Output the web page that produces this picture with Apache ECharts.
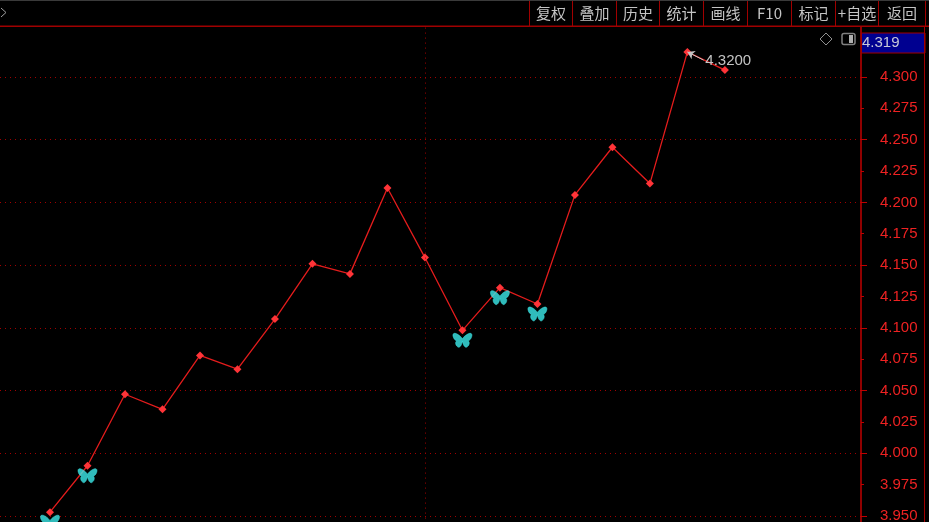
<!DOCTYPE html>
<html><head><meta charset="utf-8">
<style>html,body{margin:0;padding:0;background:#000}#c{width:929px;height:522px}</style>
<script src="https://cdn.jsdelivr.net/npm/echarts@6/dist/echarts.min.js"></script>
</head><body><div id="c"></div>
<script>
const pointIndex = [0,1,2,3,4,5,6,7,8,9,10,11,12,13,14,15,16,17,18];
const prices = [3.953,3.990,4.047,4.035,4.078,4.067,4.107,4.151,4.143,4.2115,4.156,4.098,4.132,4.119,4.206,4.244,4.215,4.320,4.3055];
const butterflyIndex = [0,1,11,12,13];
const buttonLabels = ['复权','叠加','历史','统计','画线','F10','标记','+自选','返回'];
const buttonEdges = [529,572,616,659,703,747,791,835,878,925];
const currentPrice = '4.319';
const peakLabel = '4.3200';

const butterfly = 'path://M10 6 C8 3 3 0 1 1 C-1 2 1 7 4 8 C2 9 3 13 6 14 C8 14 9.5 11 10 8 C10.5 11 12 14 14 14 C17 13 18 9 16 8 C19 7 21 2 19 1 C17 0 12 3 10 6 Z';
const DARK_RED = '#a00000', RED = '#ee2222', GRAY = '#c4c4c4';

const graphics = [
  {type:'rect',z:50,shape:{x:0,y:0,width:929,height:26},style:{fill:'#000'}},
  {type:'rect',z:51,shape:{x:0,y:0,width:929,height:1},style:{fill:'#3a3a3a'}},
  {type:'rect',z:51,shape:{x:0,y:25.5,width:929,height:1.5},style:{fill:DARK_RED}},
  {type:'polyline',z:51,shape:{points:[[1,8],[6,12.5],[1,17]]},style:{stroke:'#a0a0a0',lineWidth:1,fill:null}},
  {type:'rect',z:51,shape:{x:861.5,y:33,width:63.5,height:20},style:{fill:'#000090',stroke:DARK_RED,lineWidth:1}},
  {type:'text',z:52,style:{x:862,y:43,text:currentPrice,fill:'#c8c8d8',font:'15px "Liberation Sans"',align:'left',verticalAlign:'middle'}},
  {type:'rect',z:51,shape:{x:924,y:27,width:1,height:495},style:{fill:DARK_RED}},
  {type:'polygon',z:51,shape:{points:[[826,33],[832,39],[826,45],[820,39]]},style:{fill:null,stroke:'#909090',lineWidth:1}},
  {type:'rect',z:51,shape:{x:842,y:33.5,width:13,height:11,r:2},style:{fill:null,stroke:'#808080',lineWidth:1.5}},
  {type:'rect',z:51,shape:{x:849,y:35,width:4,height:8},style:{fill:'#b0b0b0'}}
];
buttonEdges.forEach(x=>graphics.push({type:'rect',z:51,shape:{x:x,y:1,width:1,height:25},style:{fill:DARK_RED}}));
buttonLabels.forEach((t,i)=>graphics.push({type:'text',z:52,style:{
  x:(buttonEdges[i]+buttonEdges[i+1])/2+0.5,y:13.5,text:t,fill:GRAY,
  font:'15px "Noto Sans CJK SC"',align:'center',verticalAlign:'middle'}}));

const chart = echarts.init(document.getElementById('c'),null,{renderer:'canvas'});
chart.setOption({
  animation:false,
  backgroundColor:'#000',
  grid:{left:0,width:861,top:14.3,height:564.3,containLabel:false,outerBoundsMode:'none'},
  xAxis:{type:'value',min:-1.3333,max:21.63,show:false},
  yAxis:[
    {type:'value',min:3.9,max:4.35,interval:0.025,position:'right',
     axisLine:{show:true,onZero:false,lineStyle:{color:'#c00000',width:1.5}},
     axisTick:{show:true,length:3,lineStyle:{color:'#c00000'}},
     axisLabel:{color:RED,fontFamily:'Liberation Sans',fontSize:15,margin:19,padding:[2,0,0,0],
       formatter:v=>v.toFixed(3)},
     splitLine:{show:false}},
    {type:'value',min:3.9,max:4.35,interval:0.05,position:'right',
     axisLine:{show:false,onZero:false},
     axisTick:{show:true,length:6,lineStyle:{color:'#c00000'}},
     axisLabel:{show:false},
     splitLine:{show:true,lineStyle:{color:DARK_RED,type:[1,4],width:1}}}
  ],
  series:[
    {type:'line',data:pointIndex.map((x,i)=>[x,prices[i]]),
     lineStyle:{color:'#e41c1c',width:1.3},
     symbol:'diamond',symbolSize:8,showAllSymbol:true,
     itemStyle:{color:'#ff3438'},z:3,
     markLine:{silent:true,symbol:'none',label:{show:false},
       lineStyle:{color:DARK_RED,type:[1,4],width:1},
       data:[{xAxis:pointIndex[10]}]}},
    {type:'scatter',data:butterflyIndex.map(i=>[pointIndex[i],prices[i]]),
     symbol:butterfly,symbolSize:[19,14],symbolOffset:[0,10],
     itemStyle:{color:'#3ceaea',borderColor:'#3ceaea',borderWidth:0.6},z:4},
    {type:'scatter',data:[],z:5,
     markLine:{silent:true,symbol:['arrow','none'],symbolSize:7,animation:false,
       lineStyle:{color:GRAY,width:1,type:'solid'},
       label:{show:true,position:'end',formatter:peakLabel,color:GRAY,fontFamily:'Liberation Sans',fontSize:15,distance:2},
       data:[[{coord:[pointIndex[17],prices[17]]},{coord:[17.43,4.3135]}]]}}
  ],
  graphic:graphics
});
</script></body></html>
